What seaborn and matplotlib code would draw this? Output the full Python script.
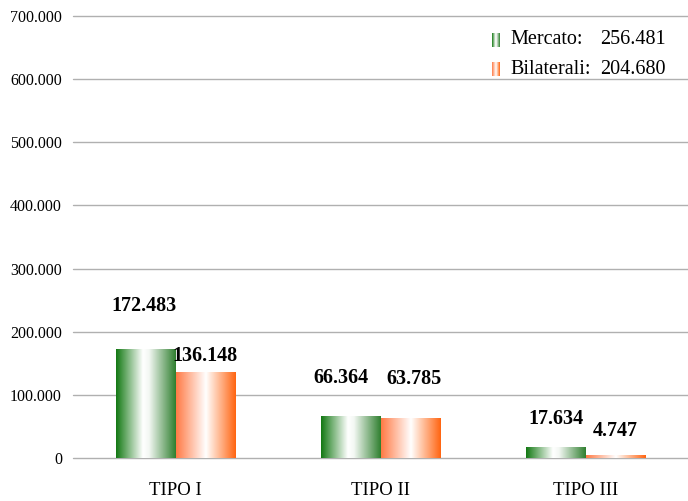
"""
Mercato vs Bilaterali by TIPO - grouped bars with gradient fill
"""

import numpy as np
import pandas as pd
import matplotlib
matplotlib.use("Agg")
import matplotlib.pyplot as plt
from matplotlib.colors import LinearSegmentedColormap
from matplotlib.patches import Rectangle
from matplotlib.ticker import FuncFormatter
import seaborn as sns

# Data
categories = ["TIPO I", "TIPO II", "TIPO III"]
series = ["Mercato", "Bilaterali"]
mercato = [172483, 66364, 17634]
bilaterali = [136148, 63785, 4747]

# label offsets from the bar top centre (points), as in the original layout
label_dy = {"Mercato": [24, 20, 13], "Bilaterali": [4, 21, 10]}
label_dx = {"Mercato": [-1, -7, 0], "Bilaterali": [0, 3, 0]}

sns.set_theme(style="white")
plt.rcParams["font.family"] = ["Liberation Serif", "DejaVu Serif"]
plt.rcParams["text.color"] = "black"
plt.rcParams["xtick.color"] = "black"
plt.rcParams["ytick.color"] = "black"

df = pd.DataFrame({
    "tipo": categories * 2,
    "serie": ["Mercato"] * 3 + ["Bilaterali"] * 3,
    "valore": mercato + bilaterali,
})

fig = plt.figure(figsize=(6.88, 5.01), dpi=100)
ax = fig.add_axes([73 / 688, 1 - 458 / 501, 1 - 73 / 688, 442 / 501])

ax = sns.barplot(data=df, x="tipo", y="valore", hue="serie", hue_order=series,
                 width=0.58, ax=ax, legend=False, linewidth=0)

cmaps = {
    "Mercato": LinearSegmentedColormap.from_list(
        "g", [(0, "#127812"), (0.45, "#ffffff"), (0.55, "#f4f8f4"), (1, "#2f7f2f")]),
    "Bilaterali": LinearSegmentedColormap.from_list(
        "o", [(0, "#ff7a45"), (0.5, "#ffffff"), (1, "#ff6410")]),
}

grad = np.linspace(0, 1, 256).reshape(1, -1)
values = {"Mercato": mercato, "Bilaterali": bilaterali}
for cont, name in zip(ax.containers, series):
    for i, bar in enumerate(cont):
        x0, y0 = bar.get_x(), bar.get_y()
        w, h = bar.get_width(), bar.get_height()
        bar.set_alpha(0)
        im = ax.imshow(grad, cmap=cmaps[name], aspect="auto",
                       extent=[x0, x0 + w, y0, y0 + h], zorder=3)
        im.set_clip_path(Rectangle((x0, y0), w, h, transform=ax.transData))
        ax.annotate(f"{values[name][i]:,}".replace(",", "."),
                    (x0 + w / 2, y0 + h),
                    xytext=(label_dx[name][i], label_dy[name][i]),
                    textcoords="offset points", ha="center", va="bottom",
                    fontsize=14.5, fontweight="bold", zorder=4)

ax.set_xlim(-0.5, 2.5)
ax.set_ylim(0, 700000)
ax.set_yticks(np.arange(0, 700001, 100000))
ax.yaxis.set_major_formatter(FuncFormatter(lambda v, p: f"{int(v):,}".replace(",", ".")))
ax.grid(axis="y", color="#b0b0b0", linewidth=1)
for gl in ax.get_ygridlines():
    gl.set_clip_on(False)
ax.set_axisbelow(True)
for s in ax.spines.values():
    s.set_visible(False)
ax.set_xlabel("")
ax.set_ylabel("")
ax.tick_params(axis="y", labelsize=11.5, pad=8, length=0)
ax.tick_params(axis="x", labelsize=13.5, pad=17, length=0)

# legend with totals
for k, name in enumerate(series):
    ty = 0.946 - k * 0.066
    lg = ax.inset_axes([0.681, ty - 0.016, 0.013, 0.032])
    lg.imshow(grad, cmap=cmaps[name], aspect="auto")
    lg.axis("off")
    ax.text(0.7106, ty, f"{name}:", transform=ax.transAxes, fontsize=14.5,
            va="center", ha="left")
    ax.text(0.857, ty, f"{sum(values[name]):,}".replace(",", "."),
            transform=ax.transAxes, fontsize=14.5, va="center", ha="left")

fig.savefig("out.png", dpi=100)
